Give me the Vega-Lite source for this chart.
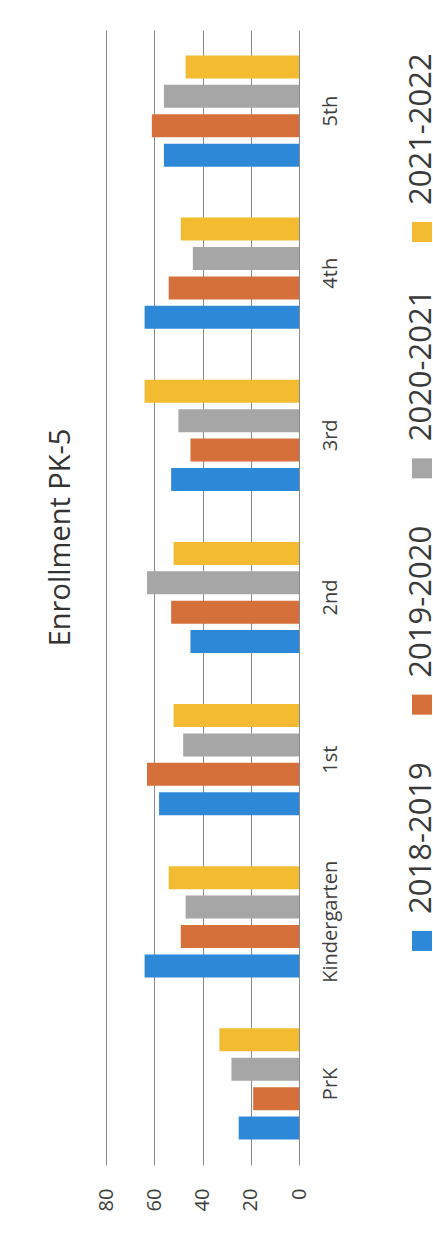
{
  "$schema": "https://vega.github.io/schema/vega-lite/v6.json",
  "background": "white",
  "padding": {"left": 46, "top": 30, "right": 0, "bottom": 0},
  "title": {
    "text": "Enrollment PK-5",
    "orient": "left",
    "anchor": "middle",
    "dx": 83,
    "font": "Open Sans",
    "fontSize": 29,
    "fontWeight": "normal",
    "color": "#333333",
    "offset": 20
  },
  "config": {
    "view": {"stroke": null},
    "font": "Open Sans"
  },
  "datasets": {
    "enrollment": [
      {"grade": "PrK", "year": "2018-2019", "students": 25},
      {"grade": "PrK", "year": "2019-2020", "students": 19},
      {"grade": "PrK", "year": "2020-2021", "students": 28},
      {"grade": "PrK", "year": "2021-2022", "students": 33},
      {"grade": "Kindergarten", "year": "2018-2019", "students": 64},
      {"grade": "Kindergarten", "year": "2019-2020", "students": 49},
      {"grade": "Kindergarten", "year": "2020-2021", "students": 47},
      {"grade": "Kindergarten", "year": "2021-2022", "students": 54},
      {"grade": "1st", "year": "2018-2019", "students": 58},
      {"grade": "1st", "year": "2019-2020", "students": 63},
      {"grade": "1st", "year": "2020-2021", "students": 48},
      {"grade": "1st", "year": "2021-2022", "students": 52},
      {"grade": "2nd", "year": "2018-2019", "students": 45},
      {"grade": "2nd", "year": "2019-2020", "students": 53},
      {"grade": "2nd", "year": "2020-2021", "students": 63},
      {"grade": "2nd", "year": "2021-2022", "students": 52},
      {"grade": "3rd", "year": "2018-2019", "students": 53},
      {"grade": "3rd", "year": "2019-2020", "students": 45},
      {"grade": "3rd", "year": "2020-2021", "students": 50},
      {"grade": "3rd", "year": "2021-2022", "students": 64},
      {"grade": "4th", "year": "2018-2019", "students": 64},
      {"grade": "4th", "year": "2019-2020", "students": 54},
      {"grade": "4th", "year": "2020-2021", "students": 44},
      {"grade": "4th", "year": "2021-2022", "students": 49},
      {"grade": "5th", "year": "2018-2019", "students": 56},
      {"grade": "5th", "year": "2019-2020", "students": 61},
      {"grade": "5th", "year": "2020-2021", "students": 56},
      {"grade": "5th", "year": "2021-2022", "students": 47}
    ],
    "years": [
      {"year": "2018-2019"},
      {"year": "2019-2020"},
      {"year": "2020-2021"},
      {"year": "2021-2022"}
    ]
  },
  "resolve": {"scale": {"y": "independent"}},
  "spacing": 66,
  "hconcat": [
    {
      "width": 193,
      "height": 1135,
      "data": {"name": "enrollment"},
      "mark": {"type": "bar"},
      "encoding": {
        "y": {
          "field": "grade",
          "type": "nominal",
          "sort": ["5th", "4th", "3rd", "2nd", "1st", "Kindergarten", "PrK"],
          "scale": {"paddingInner": 0.314, "paddingOuter": 0.157},
          "axis": {
            "orient": "right",
            "title": null,
            "labelAngle": -90,
            "labelAlign": "center",
            "labelBaseline": "top",
            "labelPadding": 21,
            "ticks": false,
            "domain": false,
            "grid": false,
            "labelFont": "Open Sans",
            "labelFontSize": 20,
            "labelColor": "#404040"
          }
        },
        "yOffset": {
          "field": "year",
          "type": "nominal",
          "sort": ["2021-2022", "2020-2021", "2019-2020", "2018-2019"],
          "scale": {"paddingInner": 0.218, "paddingOuter": 0}
        },
        "x": {
          "field": "students",
          "type": "quantitative",
          "scale": {"domain": [0, 80], "reverse": true, "nice": false},
          "axis": {
            "values": [0, 20, 40, 60, 80],
            "title": null,
            "labelAngle": -90,
            "labelAlign": "right",
            "labelBaseline": "middle",
            "labelPadding": 23,
            "ticks": false,
            "domain": false,
            "grid": true,
            "gridColor": "#8a8a8a",
            "gridWidth": 1,
            "labelFont": "Open Sans",
            "labelFontSize": 20,
            "labelColor": "#404040"
          }
        },
        "color": {
          "field": "year",
          "type": "nominal",
          "scale": {
            "domain": ["2018-2019", "2019-2020", "2020-2021", "2021-2022"],
            "range": ["#2e88d8", "#d5703a", "#a6a6a6", "#f3bb31"]
          },
          "legend": null
        }
      }
    },
    {
      "width": 20,
      "height": 1113,
      "data": {"name": "years"},
      "encoding": {
        "y": {
          "field": "year",
          "type": "nominal",
          "sort": ["2021-2022", "2020-2021", "2019-2020", "2018-2019"],
          "scale": {"type": "point", "padding": 0.855},
          "axis": null
        },
        "color": {
          "field": "year",
          "type": "nominal",
          "scale": {
            "domain": ["2018-2019", "2019-2020", "2020-2021", "2021-2022"],
            "range": ["#2e88d8", "#d5703a", "#a6a6a6", "#f3bb31"]
          },
          "legend": null
        }
      },
      "layer": [
        {"mark": {"type": "square", "size": 400, "opacity": 1, "filled": true}},
        {
          "mark": {
            "type": "text",
            "angle": -90,
            "align": "left",
            "baseline": "middle",
            "dx": 27,
            "font": "Open Sans",
            "fontSize": 31,
            "color": "#3a3a3a"
          },
          "encoding": {
            "text": {"field": "year"},
            "color": {"value": "#3a3a3a"}
          }
        }
      ]
    }
  ]
}
